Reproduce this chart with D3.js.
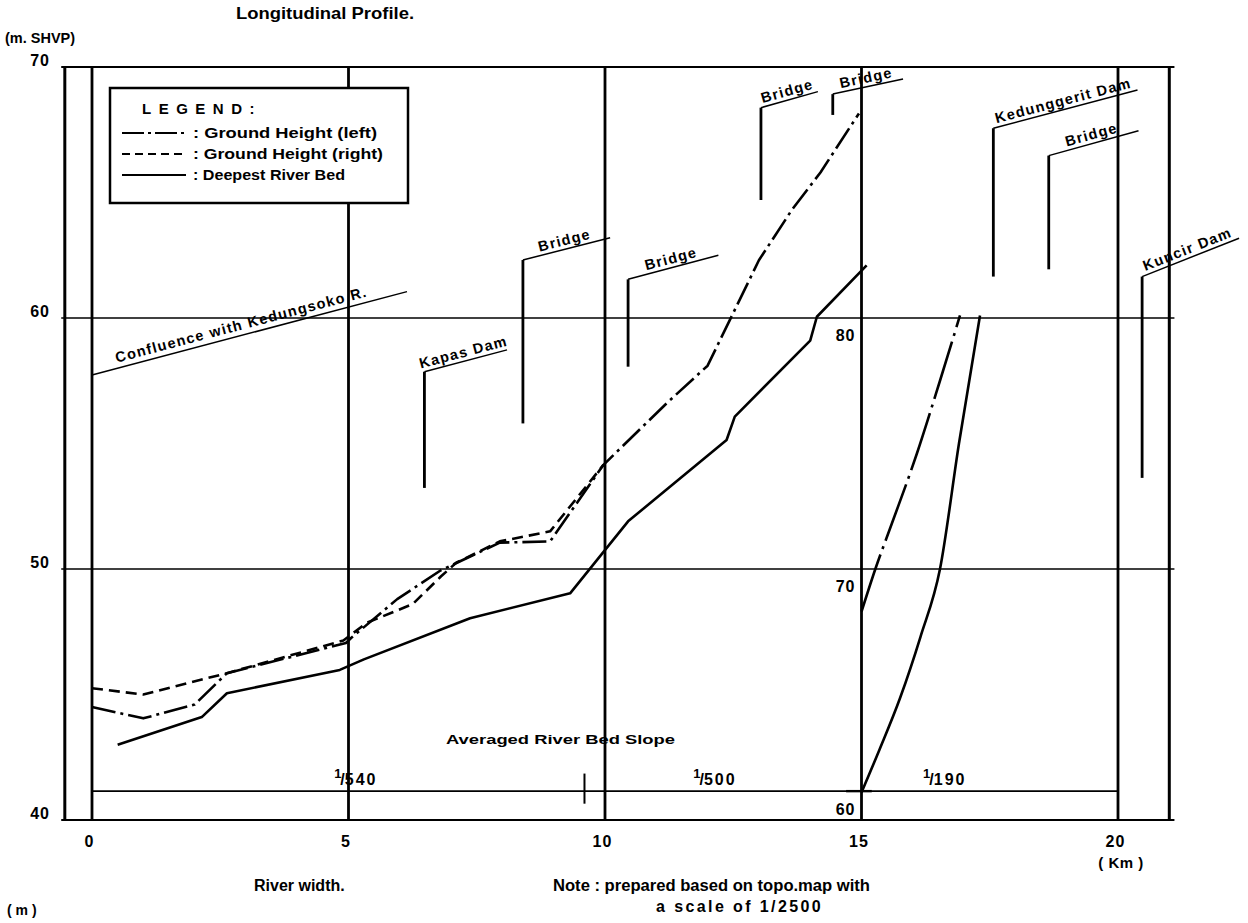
<!DOCTYPE html>
<html>
<head>
<meta charset="utf-8">
<script src="https://cdn.jsdelivr.net/npm/d3@7"></script>
<style>
  html, body { margin: 0; padding: 0; background: #fff; }
  svg { display: block; }
  text { font-family: "Liberation Sans", Arial, sans-serif; font-weight: bold; fill: #000; }
</style>
</head>
<body>
<svg id="chart" width="1248" height="923"></svg>
<script>
// Longitudinal profile: distance along the river (km) against elevation (m. SHVP)

const kmTicks = [0, 5, 10, 15, 20];
const elevTicks = [40, 50, 60, 70];
const insetTicks = [60, 70, 80];

// [km, elevation m]
const groundLeft = [
  [0.0, 44.5], [1.0, 44.05], [2.0, 44.6], [2.63, 45.85], [4.95, 47.05], [5.05, 47.25],
  [5.95, 48.8], [6.8, 49.95], [7.95, 51.05], [8.93, 51.1], [9.97, 54.15], [11.2, 56.6],
  [12.0, 58.1], [12.5, 60.2], [13.0, 62.3], [13.64, 64.3], [14.2, 65.8], [14.95, 68.15]
];
const groundRight = [
  [0.0, 45.25], [1.0, 45.0], [2.63, 45.85], [4.9, 47.15], [5.35, 47.85], [6.25, 48.6],
  [6.8, 49.7], [7.1, 50.25], [7.95, 51.1], [8.93, 51.5], [9.97, 54.15]
];
const deepestBed = [
  [0.5, 43.0], [2.14, 44.1], [2.63, 45.05], [4.83, 45.98], [5.3, 46.4], [7.37, 48.04],
  [9.32, 49.03], [10.45, 51.9], [12.37, 55.14], [12.53, 56.07], [14.0, 59.1],
  [14.13, 60.05], [15.1, 62.1]
];

// Upstream reach beyond km 15, read on the inset scale (60 - 80 m)
const groundLeftUpper = [
  [15.0, 68.3], [15.27, 70.0], [15.59, 71.8], [16.08, 74.6], [16.53, 77.5], [16.92, 80.1]
];
const deepestBedUpper = [
  [15.0, 61.1], [15.35, 62.8], [15.75, 64.85], [16.15, 67.3], [16.53, 70.0],
  [16.9, 75.0], [17.31, 80.1]
];

// Structures along the river: location (km), marker foot / head elevation, leader end
const structureNames = ["Confluence with Kedungsoko R.", "Kapas Dam", "Bridge", "Bridge", "Bridge",
  "Bridge", "Kedunggerit Dam", "Bridge", "Kuncir Dam"];
const structureKm = [0, 6.48, 8.40, 10.45, 13.04, 14.44, 17.57, 18.65, 20.47];
const structureFoot = [null, 53.23, 55.8, 58.06, 64.7, 68.09, 61.65, 61.94, 53.63];
const structureHead = [57.73, 57.86, 62.31, 61.54, 68.38, 68.92, 67.56, 66.47, 61.65];
const leaderEndKm = [6.14, 8.09, 10.1, 12.21, 14.15, 15.81, 20.38, 20.40, 22.36];
const leaderEndElev = [61.05, 58.73, 63.2, 62.5, 69.02, 69.52, 69.08, 67.46, 63.18];

// Averaged river bed slope (1 / n) by reach
const slopeDenoms = ["540", "500", "190"];
const slopeLabelKm = [4.72, 11.72, 16.2];
const slopeBaseElev = 41.15;
const reachBreakKm = 9.6;

// ---- scales ----
const svg = d3.select("#chart");
const x = d3.scaleLinear().domain([0, 20]).range([92, 1118]);
const y = d3.scaleLinear().domain([40, 70]).range([820, 67]);
const yUpper = d3.scaleLinear().domain([60, 90]).range([820, 67]);

const frameKm = [-0.53, 21.0];

// ---- frame and grid ----
const grid = svg.append("g").attr("stroke", "#000").attr("fill", "none");
[50, 60].forEach(v => {
  grid.append("line").attr("x1", x(-0.6)).attr("x2", x(21.1))
    .attr("y1", y(v)).attr("y2", y(v)).attr("stroke-width", 1.3);
});
grid.append("line").attr("x1", x(-0.6)).attr("x2", x(21.1))
  .attr("y1", y(70)).attr("y2", y(70)).attr("stroke-width", 2);
grid.append("line").attr("x1", x(-0.6)).attr("x2", x(21.1))
  .attr("y1", y(40)).attr("y2", y(40)).attr("stroke-width", 2.2);
frameKm.forEach(k => {
  grid.append("line").attr("x1", x(k)).attr("x2", x(k))
    .attr("y1", y(70)).attr("y2", y(40)).attr("stroke-width", 3);
});
kmTicks.forEach(k => {
  grid.append("line").attr("x1", x(k)).attr("x2", x(k))
    .attr("y1", y(70)).attr("y2", y(40)).attr("stroke-width", 2.8);
});

// slope reference line
grid.append("line").attr("x1", x(0)).attr("x2", x(20))
  .attr("y1", y(slopeBaseElev)).attr("y2", y(slopeBaseElev)).attr("stroke-width", 1.6);
grid.append("line").attr("x1", x(reachBreakKm)).attr("x2", x(reachBreakKm))
  .attr("y1", y(slopeBaseElev + 0.7)).attr("y2", y(slopeBaseElev - 0.5)).attr("stroke-width", 2);
grid.append("line").attr("x1", x(14.7)).attr("x2", x(15.2))
  .attr("y1", y(slopeBaseElev)).attr("y2", y(slopeBaseElev)).attr("stroke-width", 2.4);

// ---- axis labels ----
const yAxis = d3.axisLeft(y).tickValues(elevTicks).tickSize(0).tickPadding(0);
const yg = svg.append("g").attr("transform", "translate(50,-7)").call(yAxis);
yg.select(".domain").remove();
yg.selectAll("text").attr("font-size", 16).attr("letter-spacing", 1)
  .attr("font-family", "Liberation Sans, Arial, sans-serif").attr("font-weight", "bold");

const xAxis = d3.axisBottom(x).tickValues(kmTicks).tickSize(0).tickPadding(0);
const xg = svg.append("g").attr("transform", "translate(-3,836)").call(xAxis);
xg.select(".domain").remove();
xg.selectAll("text").attr("font-size", 16).attr("letter-spacing", 1)
  .attr("font-family", "Liberation Sans, Arial, sans-serif").attr("font-weight", "bold");

// inset elevation labels for the upstream reach
insetTicks.forEach(v => {
  svg.append("text").attr("x", x(15) - 6)
    .attr("y", v === 60 ? yUpper(v) - 5 : yUpper(v) + 23)
    .attr("text-anchor", "end").attr("font-size", 16).attr("letter-spacing", 1)
    .text(v);
});

svg.append("text").attr("x", 5).attr("y", 43).attr("font-size", 14.5)
  .text("(m. SHVP)");
svg.append("text").attr("x", 236).attr("y", 19).attr("font-size", 16)
  .attr("textLength", 178).attr("lengthAdjust", "spacingAndGlyphs")
  .text("Longitudinal Profile.");
svg.append("text").attr("x", 1121).attr("y", 868).attr("text-anchor", "middle")
  .attr("font-size", 15).attr("letter-spacing", 0.5).text("( Km )");
svg.append("text").attr("x", 254).attr("y", 891).attr("font-size", 16)
  .text("River width.");
svg.append("text").attr("x", 7).attr("y", 915).attr("font-size", 14)
  .text("( m )");
svg.append("text").attr("x", 553).attr("y", 891).attr("font-size", 16)
  .attr("textLength", 317).attr("lengthAdjust", "spacingAndGlyphs")
  .text("Note : prepared based on topo.map with");
svg.append("text").attr("x", 656).attr("y", 912).attr("font-size", 16)
  .attr("letter-spacing", 2.4)
  .text("a scale of 1/2500");
svg.append("text").attr("x", 446).attr("y", 744).attr("font-size", 13)
  .attr("textLength", 229).attr("lengthAdjust", "spacingAndGlyphs")
  .text("Averaged River Bed Slope");

// slope fractions
slopeDenoms.forEach((d, i) => {
  const t = svg.append("text").attr("x", x(slopeLabelKm[i])).attr("y", y(slopeBaseElev) - 6)
    .attr("font-size", 16);
  t.append("tspan").attr("dy", -7).attr("font-size", 13).text("1");
  t.append("tspan").attr("dy", 7).attr("dx", -1).text("/");
  t.append("tspan").attr("letter-spacing", 2).text(d);
});

// ---- structure markers ----
const marks = svg.append("g");
structureNames.forEach((name, i) => {
  const xk = x(structureKm[i]);
  const yh = y(structureHead[i]);
  const xe = x(leaderEndKm[i]);
  const ye = y(leaderEndElev[i]);
  if (structureFoot[i] !== null) {
    marks.append("line").attr("x1", xk).attr("x2", xk)
      .attr("y1", y(structureFoot[i])).attr("y2", yh)
      .attr("stroke", "#000").attr("stroke-width", 2.8);
  }
  marks.append("line").attr("x1", xk).attr("y1", yh).attr("x2", xe).attr("y2", ye)
    .attr("stroke", "#000").attr("stroke-width", 1.5);
  const ang = Math.atan2(ye - yh, xe - xk) * 180 / Math.PI;
  marks.append("text")
    .attr("transform", `translate(${(xk + xe) / 2 + (i === 0 ? -6 : 0)},${(yh + ye) / 2}) rotate(${ang})`)
    .attr("y", -4).attr("text-anchor", "middle")
    .attr("font-size", 14.5).attr("letter-spacing", 1.3)
    .text(name);
});

// ---- profile lines ----
const line = d3.line().x(d => x(d[0])).y(d => y(d[1]));
const lineUpper = d3.line().x(d => x(d[0])).y(d => yUpper(d[1])).curve(d3.curveMonotoneX);

const profiles = svg.append("g").attr("fill", "none").attr("stroke", "#000")
  .attr("stroke-width", 2.6).attr("stroke-linejoin", "round");
profiles.append("path").attr("d", line(groundLeft)).attr("stroke-dasharray", "24,5,3,5");
profiles.append("path").attr("d", line(groundRight)).attr("stroke-dasharray", "11,6");
profiles.append("path").attr("d", line(deepestBed));
profiles.append("path").attr("d", lineUpper(groundLeftUpper)).attr("stroke-dasharray", "60,6,3,6");
profiles.append("path").attr("d", lineUpper(deepestBedUpper));

// ---- legend ----
const lg = svg.append("g");
lg.append("rect").attr("x", 110).attr("y", 88).attr("width", 298).attr("height", 115)
  .attr("fill", "#fff").attr("stroke", "#000").attr("stroke-width", 2.5);
lg.append("text").attr("x", 142).attr("y", 114).attr("font-size", 15).attr("letter-spacing", 7.5)
  .text("LEGEND:");
const legendItems = [
  { label: ": Ground Height (left)", dash: "22,4,3,4", width: 184 },
  { label: ": Ground Height (right)", dash: "8,5", width: 190 },
  { label: ": Deepest River Bed", dash: null, width: 152 }
];
legendItems.forEach((it, i) => {
  const cy = 133 + i * 21;
  const l = lg.append("line").attr("x1", 122).attr("x2", 186).attr("y1", cy).attr("y2", cy)
    .attr("stroke", "#000").attr("stroke-width", 2);
  if (it.dash) l.attr("stroke-dasharray", it.dash);
  lg.append("text").attr("x", 193).attr("y", cy + 5).attr("font-size", 14)
    .attr("textLength", it.width).attr("lengthAdjust", "spacingAndGlyphs").text(it.label);
});
</script>
</body>
</html>
